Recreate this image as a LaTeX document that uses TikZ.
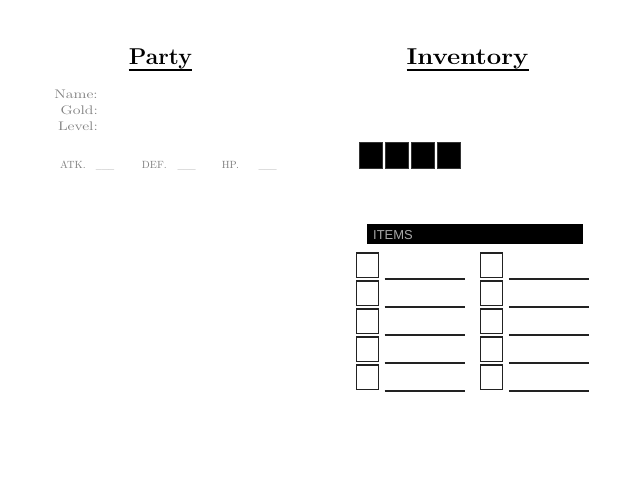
\documentclass[tikz,border=0pt]{standalone}
\usepackage{fontspec}
\usepackage{graphicx}
\newfontfamily\itemsfont{Liberation Sans}
\definecolor{txtgray}{HTML}{7F7F7F}
\definecolor{boxgray}{HTML}{222222}
\definecolor{blkborder}{HTML}{333333}
\definecolor{itemgray}{HTML}{A8A8A8}
\tikzset{
  titletext/.style={inner sep=0pt, anchor=base, font=\fontsize{23}{27}\selectfont\bfseries},
  titleline/.style={line width=2bp, black},
  fieldlbl/.style={inner sep=0pt, anchor=base east, text=txtgray,
    font=\fontsize{12.5}{16}\selectfont},
  statlbl/.style={inner sep=0pt, anchor=base west, text=txtgray, font=\fontsize{10.5}{12}\selectfont},
  blk/.style={draw=blkborder, fill=black, line width=1bp, minimum width=23bp, minimum height=26bp, inner sep=0pt},
  itembar/.style={fill=black, minimum width=216bp, minimum height=20bp, inner sep=0pt},
  itemlbl/.style={inner sep=0pt, anchor=base west, text=itemgray, font=\fontsize{13}{15}\selectfont\itemsfont},
  itembox/.style={draw=boxgray, line width=1.3bp, minimum width=22bp, minimum height=24.7bp, inner sep=0pt},
  itemline/.style={draw=boxgray, line width=1.3bp}
}
\begin{document}
\begin{tikzpicture}[x=1bp, y=-1bp]
\useasboundingbox (0,0) rectangle (640,480);
% titles
\node[titletext] (party) at (160.4,64.3) {\scalebox{1.0}[1]{Party}};
\draw[titleline] ([yshift=-5.3bp]party.base west) -- ([yshift=-5.3bp]party.base east);
\node[titletext] (inv) at (467.5,64.3) {\scalebox{1.12}[1]{Inventory}};
\draw[titleline] ([yshift=-5.3bp]inv.base west) -- ([yshift=-5.3bp]inv.base east);
% fields
\node[fieldlbl] (name) at (98,98.8) {\scalebox{1.27}[1]{Name:}};
\node[fieldlbl] (gold) at (98,114.8) {\scalebox{1.27}[1]{Gold:}};
\node[fieldlbl] (level) at (98,130.8) {\scalebox{1.27}[1]{Level:}};
% stats
\node[statlbl] (atk) at (60,168.3) {ATK.};
\node[statlbl] (atkv) at (95.7,168.3) {\scalebox{0.78}[1]{\_\_\_}};
\node[statlbl] (def) at (141.7,168.3) {DEF.};
\node[statlbl] (defv) at (177.3,168.3) {\scalebox{0.78}[1]{\_\_\_}};
\node[statlbl] (hp) at (221.7,168.3) {HP.};
\node[statlbl] (hpv) at (258.3,168.3) {\scalebox{0.78}[1]{\_\_\_}};
% black squares
\node[blk] (b1) at (370.7,155.2) {};
\node[blk] (b2) at (396.7,155.2) {};
\node[blk] (b3) at (422.7,155.2) {};
\node[blk] (b4) at (448.7,155.2) {};
% items bar
\node[itembar] (bar) at (474.7,234) {};
\node[itemlbl] (items) at (373,240) {ITEMS};
% item slots
\foreach \r in {0,...,4} {
  \node[itembox] (a\r) at (367.7,{265.3+28*\r}) {};
  \draw[itemline] ([xshift=5.3bp,yshift=-0.6bp]a\r.south east) -- ++(80,0);
  \node[itembox] (c\r) at (491.8,{265.3+28*\r}) {};
  \draw[itemline] ([xshift=5.3bp,yshift=-0.6bp]c\r.south east) -- ++(80,0);
}
\end{tikzpicture}
\end{document}
